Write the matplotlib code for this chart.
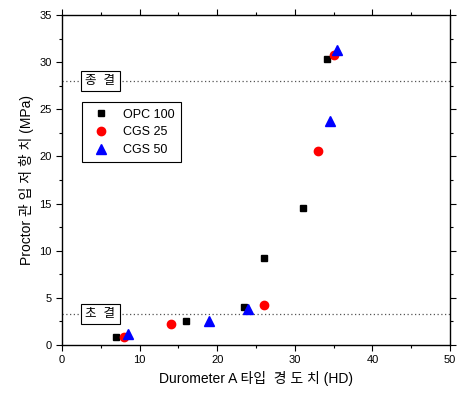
import matplotlib
matplotlib.use('Agg')
import matplotlib.pyplot as plt
from matplotlib.ticker import MultipleLocator

plt.rcParams['font.family'] = ['Liberation Sans', 'Noto Sans CJK KR']

# OPC 100
opc_x = [7, 16, 23.5, 26, 31, 34.2]
opc_y = [0.9, 2.5, 4.0, 9.2, 14.5, 30.3]
# CGS 25
cgs25_x = [8, 14, 26, 33, 35]
cgs25_y = [0.8, 2.2, 4.2, 20.6, 30.8]
# CGS 50
cgs50_x = [8.5, 19, 24, 34.5, 35.5]
cgs50_y = [1.2, 2.5, 3.8, 23.8, 31.3]

initial_set = 3.3
final_set = 28

fig = plt.figure(figsize=(4.67, 3.94), dpi=100)
ax = fig.add_axes([62/467, 1-345/394, 388/467, 330/394])

ax.plot(opc_x, opc_y, 's', color='black', ms=5, label='OPC 100', zorder=3)
ax.plot(cgs25_x, cgs25_y, 'o', color='red', ms=6, label='CGS 25', zorder=3)
ax.plot(cgs50_x, cgs50_y, '^', color='blue', ms=6.5, label='CGS 50', zorder=3)

ax.axhline(final_set, color='#555555', ls=(0, (1, 2)), lw=0.9)
ax.axhline(initial_set, color='#555555', ls=(0, (1, 2)), lw=0.9)

box = dict(boxstyle='square,pad=0.35', fc='white', ec='black', lw=0.8)
ax.text(3.0, final_set, '종  결', fontsize=9, va='center', ha='left', bbox=box)
ax.text(3.0, initial_set, '초  결', fontsize=9, va='center', ha='left', bbox=box)

leg = ax.legend(loc='upper left', bbox_to_anchor=(0.052, 0.735), fontsize=9,
                fancybox=False, edgecolor='black', framealpha=1,
                handletextpad=0.8, borderpad=0.5, labelspacing=0.45,
                borderaxespad=0)
leg.get_frame().set_linewidth(0.8)

ax.set_xlim(0, 50)
ax.set_ylim(0, 35)
ax.xaxis.set_major_locator(MultipleLocator(10))
ax.xaxis.set_minor_locator(MultipleLocator(5))
ax.yaxis.set_major_locator(MultipleLocator(5))
ax.yaxis.set_minor_locator(MultipleLocator(2.5))
ax.tick_params(which='both', direction='out', labelsize=8, width=0.8)
ax.tick_params(which='major', length=4)
ax.tick_params(which='minor', length=2.5)
ax.tick_params(which='both', top=True, right=True)
for s in ax.spines.values():
    s.set_linewidth(1.0)

ax.set_xlabel('Durometer A 타입  경 도 치 (HD)', fontsize=10)
ax.set_ylabel('Proctor 관 입 저 항 치 (MPa)', fontsize=10)

fig.savefig('out.png', dpi=100)
